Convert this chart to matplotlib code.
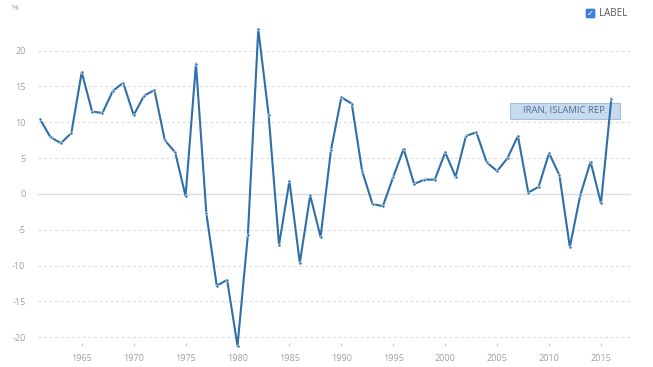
import matplotlib
matplotlib.use("Agg")
import matplotlib.pyplot as plt
from matplotlib.patches import Rectangle, FancyBboxPatch

plt.rcParams['font.family'] = ['Open Sans', 'DejaVu Sans']

years = list(range(1961, 2017))
growth = [10.4, 7.9, 7.1, 8.5, 17.0, 11.5, 11.3, 14.4, 15.5, 11.0,
          13.7, 14.5, 7.5, 5.8, -0.3, 18.2, -2.7, -12.8, -12.0, -21.2,
          -5.7, 23.0, 11.0, -7.1, 1.8, -9.6, -0.2, -6.0, 6.1, 13.5,
          12.6, 3.2, -1.4, -1.7, 2.4, 6.3, 1.4, 2.0, 2.0, 5.8,
          2.4, 8.1, 8.6, 4.4, 3.2, 5.0, 8.1, 0.2, 1.0, 5.7,
          2.6, -7.4, -0.2, 4.5, -1.3, 13.3]
series_name = "IRAN, ISLAMIC REP."
yticks = [-20, -15, -10, -5, 0, 5, 10, 15, 20]
xticks = [1965, 1970, 1975, 1980, 1985, 1990, 1995, 2000, 2005, 2010, 2015]

W, H = 653, 367
fig = plt.figure(figsize=(W / 100, H / 100), dpi=100)
ax = fig.add_axes([38 / W, (H - 343) / H, (631 - 38) / W, (343 - 22) / H])
ax.set_xlim(1960.79, 2017.89)
ax.set_ylim(-20.8, 24.0)

for s in ax.spines.values():
    s.set_visible(False)

for v in yticks:
    if v == 0:
        ax.axhline(v, color='#dcdcdc', lw=1.0, zorder=1)
    else:
        ax.axhline(v, color='#dcdcdc', lw=0.8, ls=(0, (2.5, 2.5)), zorder=1)

ax.set_yticks(yticks)
ax.set_yticklabels([str(v) for v in yticks])
ax.set_xticks(xticks)
ax.set_xticklabels([str(v) for v in xticks])
ax.tick_params(axis='y', length=0, pad=9, labelsize=6.5, labelcolor='#a0a0a0')
ax.tick_params(axis='x', length=2, width=0.8, color='#c8c8c8', pad=6,
               labelsize=6.5, labelcolor='#a0a0a0')

# series label box (under the line)
ax.add_patch(Rectangle((510 / W, (H - 119) / H), 110 / W, 16 / H,
                       transform=fig.transFigure, facecolor='#c7daee',
                       edgecolor='#a3bedb', lw=0.8, zorder=2))
fig.text(565 / W, (H - 111) / H, series_name, ha='center', va='center',
         fontsize=6.8, color='#4e6f91', zorder=6)

line_color = '#2f6fa8'
ax.plot(years, growth, color=line_color, lw=1.5, zorder=3, clip_on=False,
        marker='o', markersize=2.2, markerfacecolor=line_color,
        markeredgecolor='white', markeredgewidth=0.4)

# unit label
fig.text(15 / W, (H - 9) / H, '%', ha='center', va='center', fontsize=6,
         color='#a0a0a0')

# checkbox legend
fig.patches.append(FancyBboxPatch((586 / W, (H - 18) / H), 9 / W, 9 / H,
                                  boxstyle='round,pad=0,rounding_size=0.002',
                                  transform=fig.transFigure,
                                  facecolor='#3d7fd6', edgecolor='#3d7fd6', lw=0.5))
fig.text(590.5 / W, (H - 13.5) / H, '\u2713', ha='center', va='center',
         fontsize=6, color='white', family=['DejaVu Sans'], fontweight='bold')
fig.text(599 / W, (H - 13) / H, 'LABEL', ha='left', va='center', fontsize=7,
         color='#555555')

fig.savefig('out.png', dpi=100, facecolor='white')
